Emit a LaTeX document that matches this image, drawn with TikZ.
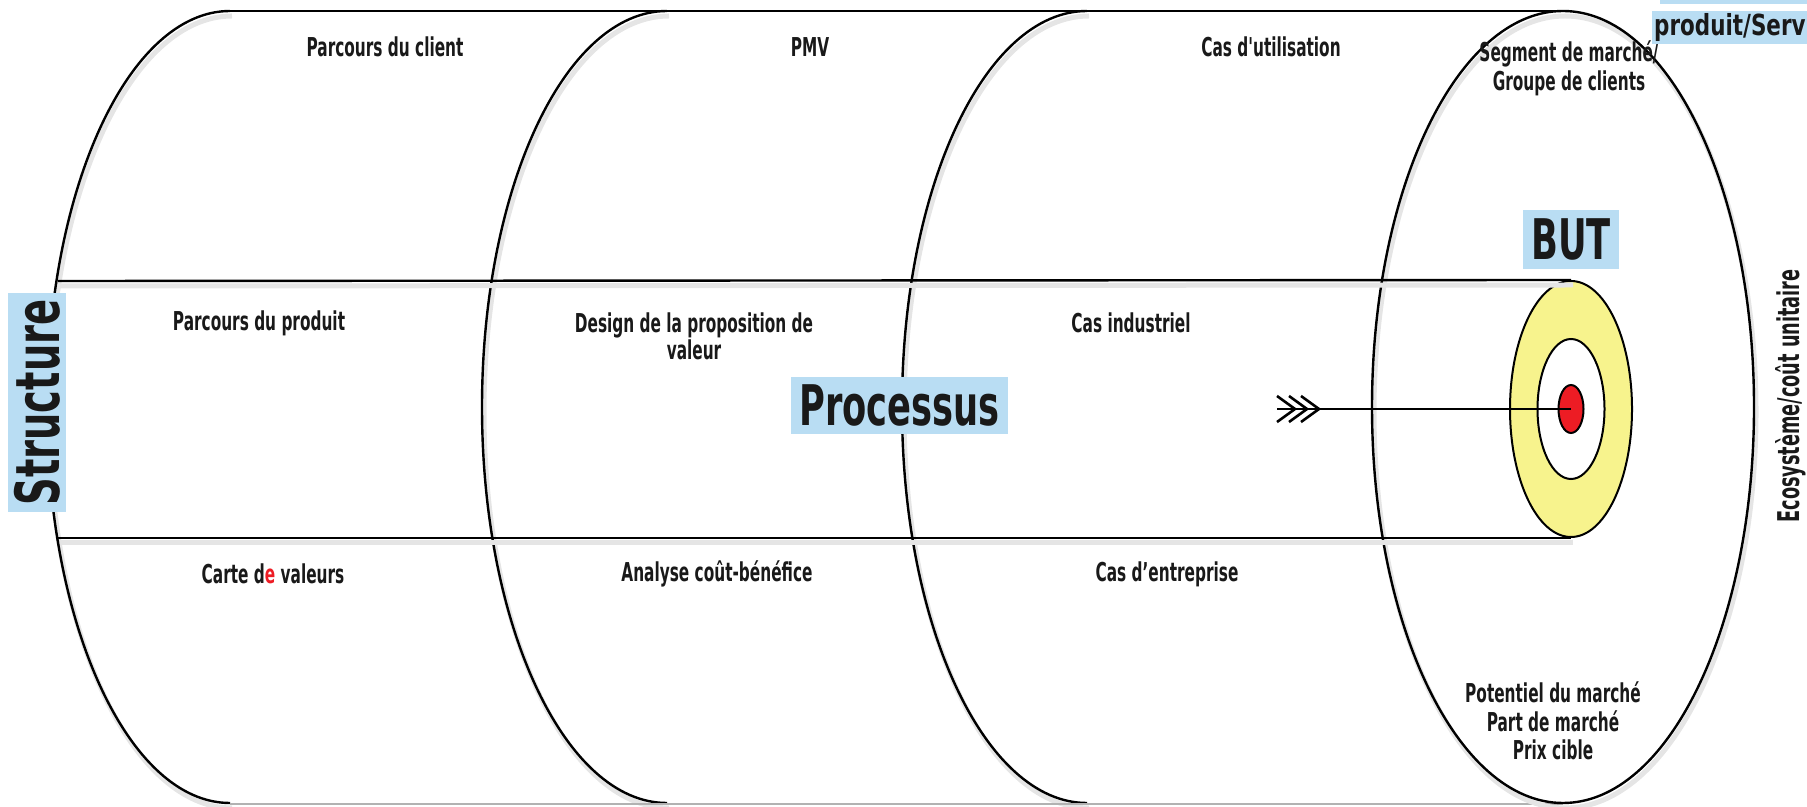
\documentclass[tikz,border=0pt]{standalone}
\usepackage{fontspec}
\setmainfont{DejaVu Sans}
\newfontfamily\handfont[FakeStretch=0.59]{DejaVu Sans}
\newfontfamily\bigfont[FakeStretch=0.63]{DejaVu Sans}
\newfontfamily\widefont[FakeStretch=0.74]{DejaVu Sans}
\usetikzlibrary{positioning,shapes.geometric}
\definecolor{tagblue}{RGB}{185,221,243}
\definecolor{ringyellow}{RGB}{247,243,141}
\definecolor{bullred}{RGB}{237,28,36}

\begin{document}
\begin{tikzpicture}[x=1pt,y=1pt,line width=2.4pt]
  \tikzstyle{lbl} = [font=\handfont\bfseries\fontsize{26}{29}\selectfont, align=center, text=black!90, inner sep=0pt]
  \tikzstyle{tag} = [fill=tagblue, inner sep=0pt, text=black!90, font=\bigfont\bfseries\fontsize{56}{60}\selectfont]
  \tikzstyle{ring} = [ellipse, draw, inner sep=0pt, line width=2pt]
  \tikzstyle{shadowed} = [preaction={draw=black!10, line width=5pt, transform canvas={xshift=2pt, yshift=-5pt}}]

  \useasboundingbox (0,0) rectangle (1807,806);
  \clip (0,0) rectangle (1807,806);

  % cylinder
  \draw[shadowed] (230,795) arc[start angle=90, end angle=270, x radius=183, y radius=396];
  \draw[shadowed] (667,795) arc[start angle=90, end angle=270, x radius=185, y radius=396];
  \draw[shadowed] (1087,795) arc[start angle=90, end angle=270, x radius=185, y radius=396];
  \draw (230,795) -- (1563,795);
  \draw[black!30, line width=1.5pt] (230,2) -- (1563,2);
  \node[ring, shadowed, line width=2.4pt, minimum width=382, minimum height=792] (eco) at (1563,399) {};

  % target
  \node[ring, fill=ringyellow, minimum width=122, minimum height=256] (outer) at (1571,397) {};
  \node[ring, fill=white, minimum width=67, minimum height=140] (inner) at (outer.center) {};
  \node[ring, fill=bullred, minimum width=25, minimum height=48] (bull) at (outer.center) {};

  \coordinate (tubetop) at (58,525);
  \coordinate (tubebot) at (58,268);
  \draw[shadowed] (tubetop) -- (outer.north);
  \draw[shadowed] (tubebot) -- (outer.south);

  % arrow
  \coordinate (tail) at (1277,397);
  \draw[line width=2.2pt] (tail) -- (bull.center);
  \foreach \dx in {0,12,24}
    \draw[line width=2.6pt] (1277+\dx,410) -- (1295+\dx,397) -- (1277+\dx,384);

  % top row
  \node[lbl] (client) at (385,759) {Parcours du client};
  \node[lbl] (pmv) at (810,759) {PMV};
  \node[lbl] (usecase) at (1271,759) {Cas d'utilisation};
  \node[lbl] (segment) at (1569,738) {Segment de march\'e/\\Groupe de clients};

  % middle row
  \node[lbl] (product) at (259,483) {Parcours du produit};
  \node[lbl, font=\handfont\bfseries\fontsize{26}{27}\selectfont] (design) at (694,470) {Design de la proposition de\\valeur};
  \node[lbl] (industry) at (1131,483) {Cas industriel};

  % bottom row
  \node[lbl] (valuemap) at (273,232) {Carte d\textcolor{bullred}{e} valeurs};
  \node[lbl] (costben) at (717,232) {Analyse co\^ut-b\'en\'efice};
  \node[lbl] (business) at (1167,232) {Cas d’entreprise};
  \node[lbl, font=\handfont\bfseries\fontsize{26}{28.5}\selectfont] (market) at (1553,85) {Potentiel du march\'e\\Part de march\'e\\Prix cible};

  % tags
  \node[tag, minimum width=96, minimum height=59, above=10pt of outer] (goal) {BUT};
  \node[tag, minimum width=217, minimum height=57] (process) at (899.5,400.5) {Processus};
  \node[tag, rotate=90, minimum width=219, minimum height=58, font=\bigfont\bfseries\fontsize{61}{64}\selectfont] (structure) at (37,403.5) {Structure};
  \node[lbl, rotate=90, font=\handfont\bfseries\fontsize{30}{32}\selectfont] (ecosys) at (1791,410) {Ecosyst\`eme/co\^ut unitaire};
  \node[fill=tagblue, anchor=south west, minimum width=160, minimum height=6, inner sep=0pt] (offertop) at (1659,801) {};
  \node[tag, anchor=west, inner xsep=2pt, minimum height=33, font=\widefont\bfseries\fontsize{29}{32}\selectfont] (offer) at (1651,778.5) {produit/Service};
\end{tikzpicture}
\end{document}
